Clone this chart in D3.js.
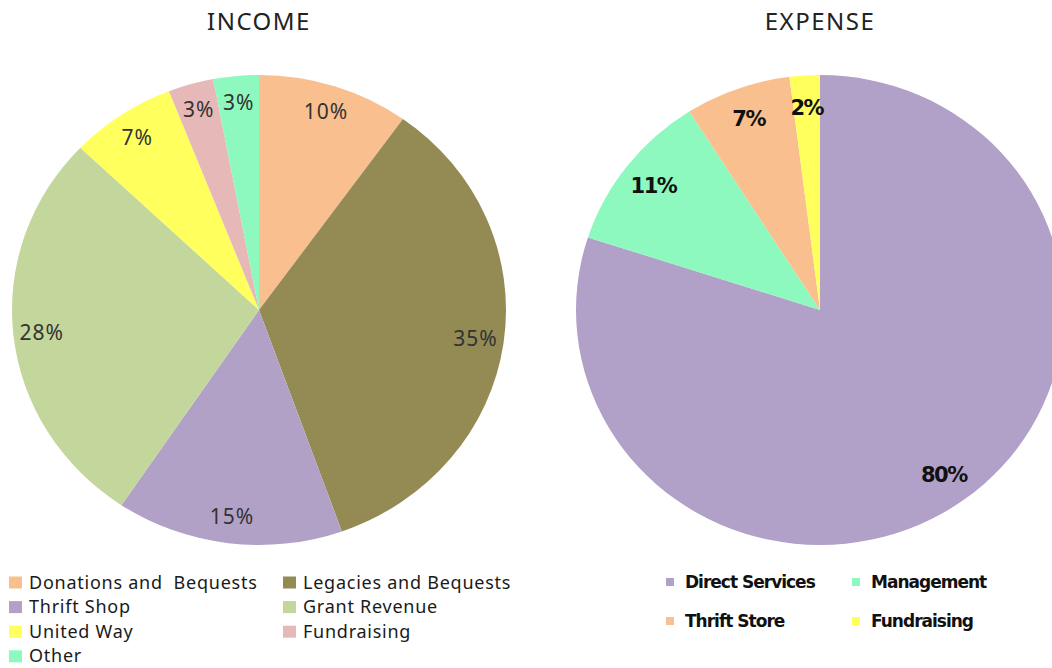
<!DOCTYPE html>
<html>
<head>
<meta charset="utf-8">
<script src="https://cdn.jsdelivr.net/npm/d3@7"></script>
<style>
  body { margin: 0; background: #fff; }
  svg { display: block; }
</style>
</head>
<body>
<div id="chart"></div>
<script>
// income pie data (percent)
const incomeCategories = ['Donations and  Bequests', 'Legacies and Bequests', 'Thrift Shop', 'Grant Revenue', 'United Way', 'Fundraising', 'Other'];
const incomeValues = [10, 35, 15, 28, 7, 3, 3];
const incomeColors = ['#f9bf8f', '#948a54', '#b2a1c7', '#c3d69b', '#ffff5e', '#e6b9b8', '#8ef9bf'];

// expense pie data (percent)
const expenseCategories = ['Direct Services', 'Management', 'Thrift Store', 'Fundraising'];
const expenseValues = [80, 11, 7, 2];
const expenseColors = ['#b1a0c7', '#8ef9bf', '#f9bf8f', '#ffff5e'];

const width = 1052, height = 668;

const svg = d3.select('#chart')
    .append('svg')
    .attr('width', width)
    .attr('height', height);

// pie layout: start at 12 o'clock, clockwise, no sorting
const pie = d3.pie().sort(null).value(d => d.value);

// draws one pie (slightly stretched horizontally like the original)
function drawPie(opts) {
    const data = opts.categories.map((c, i) => ({ name: c, value: opts.values[i], color: opts.colors[i] }));
    const arcs = pie(data);
    const sx = opts.rx / opts.ry;

    const arc = d3.arc().innerRadius(0).outerRadius(opts.ry);
    const labelArc = d3.arc().innerRadius(opts.labelR).outerRadius(opts.labelR);

    const g = svg.append('g').attr('transform', `translate(${opts.cx},${opts.cy})`);

    g.append('g')
        .attr('transform', `scale(${sx},1)`)
        .selectAll('path')
        .data(arcs)
        .enter()
        .append('path')
        .attr('d', arc)
        .attr('fill', d => d.data.color);

    g.selectAll('text.pct')
        .data(arcs)
        .enter()
        .append('text')
        .attr('class', 'pct')
        .attr('x', d => labelArc.centroid(d)[0] * sx)
        .attr('y', d => labelArc.centroid(d)[1])
        .attr('dy', '0.35em')
        .attr('text-anchor', 'middle')
        .style('font-family', opts.labelFont)
        .style('font-size', opts.labelSize + 'px')
        .style('font-weight', opts.labelWeight)
        .style('letter-spacing', opts.labelSpacing + 'px')
        .attr('fill', opts.labelColor)
        .text(d => d.data.value + '%');

    // title
    svg.append('text')
        .attr('x', opts.cx)
        .attr('y', 30)
        .attr('text-anchor', 'middle')
        .style('font-family', '"Noto Sans", "Open Sans", sans-serif')
        .style('font-size', '24px')
        .style('letter-spacing', '1.5px')
        .attr('fill', '#222')
        .text(opts.title);
}

drawPie({
    title: 'INCOME',
    categories: incomeCategories, values: incomeValues, colors: incomeColors,
    cx: 259, cy: 310, rx: 247, ry: 235, labelR: 208,
    labelFont: '"Noto Sans", sans-serif', labelSize: 21, labelWeight: 'normal',
    labelSpacing: 1, labelColor: '#333'
});

drawPie({
    title: 'EXPENSE',
    categories: expenseCategories, values: expenseValues, colors: expenseColors,
    cx: 820, cy: 310, rx: 244, ry: 235, labelR: 203,
    labelFont: '"DejaVu Sans", sans-serif', labelSize: 21, labelWeight: 'bold',
    labelSpacing: -1.5, labelColor: '#111'
});

// income legend: 2 columns
const incomeLegend = svg.append('g').selectAll('g')
    .data(incomeCategories)
    .enter()
    .append('g')
    .attr('transform', (d, i) => `translate(${i % 2 === 0 ? 9 : 283},${582.5 + Math.floor(i / 2) * 24.6})`);

incomeLegend.append('rect')
    .attr('x', 0).attr('y', -6)
    .attr('width', 13).attr('height', 12)
    .attr('fill', (d, i) => incomeColors[i]);

incomeLegend.append('text')
    .attr('x', 20)
    .attr('dy', '0.34em')
    .style('font-family', '"Noto Sans", sans-serif')
    .style('font-size', '18px')
    .style('letter-spacing', '0.75px')
    .style('white-space', 'pre')
    .attr('fill', '#1a1a1a')
    .text(d => d);

// expense legend: 2 columns
const expenseLegend = svg.append('g').selectAll('g')
    .data(expenseCategories)
    .enter()
    .append('g')
    .attr('transform', (d, i) => `translate(${i % 2 === 0 ? 666 : 852},${582 + Math.floor(i / 2) * 39})`);

expenseLegend.append('rect')
    .attr('x', 0).attr('y', -4)
    .attr('width', 8).attr('height', 8)
    .attr('fill', (d, i) => expenseColors[i]);

expenseLegend.append('text')
    .attr('x', 19)
    .attr('dy', '0.36em')
    .style('font-family', '"DejaVu Sans", sans-serif')
    .style('font-size', '17px')
    .style('font-weight', 'bold')
    .style('letter-spacing', '-1px')
    .attr('fill', '#111')
    .text(d => d);
</script>
</body>
</html>
